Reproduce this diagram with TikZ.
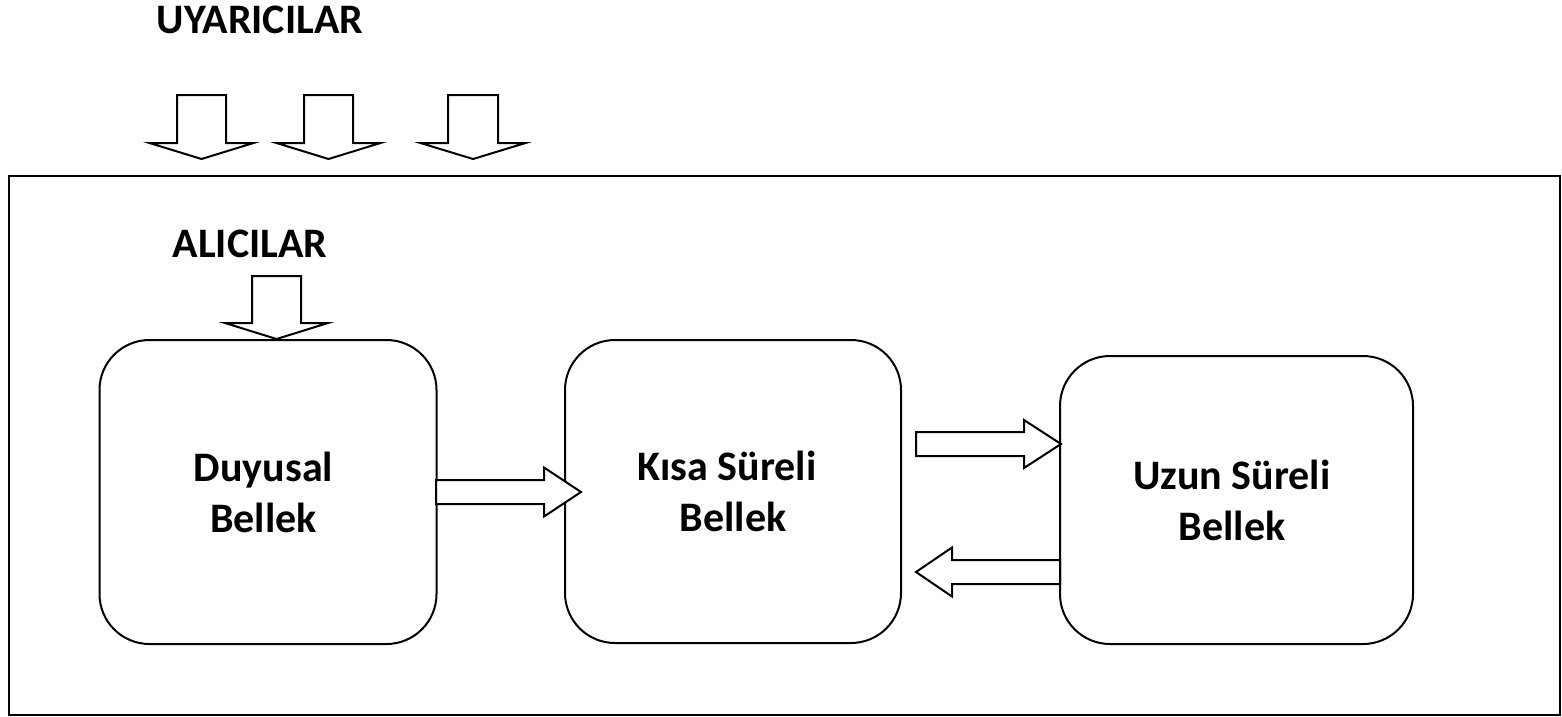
\documentclass[tikz,border=0pt]{standalone}
\usepackage{fontspec}
\setmainfont{Carlito}
\newcommand{\vdarrow}[6]{% x center, top y, head base y, tip y, shaft half, head half
  \draw[blk] ({#1-#5},#2) -- ({#1+#5},#2) -- ({#1+#5},#3) -- ({#1+#6},#3) -- (#1,#4) -- ({#1-#6},#3) -- ({#1-#5},#3) -- cycle;}
\newcommand{\hdarrow}[6]{% y center, tail x, head base x, tip x, shaft half, head half
  \draw[blk] (#2,{#1-#5}) -- (#3,{#1-#5}) -- (#3,{#1-#6}) -- (#4,#1) -- (#3,{#1+#6}) -- (#3,{#1+#5}) -- (#2,{#1+#5}) -- cycle;}
\begin{document}
\begin{tikzpicture}[x=1pt,y=-1pt,
  blk/.style={draw=black,line width=2pt,fill=white,line join=miter},
  membox/.style={draw=black,line width=2pt,rounded corners=50pt,inner sep=0pt,align=center,font=\bfseries\fontsize{42}{51}\selectfont},
  lbl/.style={inner sep=0pt,font=\bfseries\fontsize{42}{51}\selectfont}]
\useasboundingbox (0,0) rectangle (1562,716);
\fill[white] (0,0) rectangle (1562,716);
\node[draw=black,line width=2pt,minimum width=1551pt,minimum height=539pt,inner sep=0pt] (frame) at (784.5,445) {};
\node[lbl] (uyar) at (260,20) {UYARICILAR};
\node[lbl] (alic) at (250,244) {ALICILAR};
\node[membox,minimum width=337pt,minimum height=304pt] (duy) at (268,492) {Duyusal\hspace*{9pt}\\Bellek\hspace*{9pt}};
\node[membox,minimum width=336pt,minimum height=303pt] (kisa) at (733,491.5) {Kısa Süreli\hspace*{12pt}\\Bellek};
\node[membox,minimum width=353pt,minimum height=288pt] (uzun) at (1236.5,500) {Uzun Süreli\hspace*{9pt}\\Bellek\hspace*{9pt}};
% stimulus arrows
\vdarrow{201.5}{95}{143}{159}{24.5}{52}
\vdarrow{328.5}{95}{143}{159}{24.5}{52}
\vdarrow{473}{95}{143}{159}{25}{52.5}
% receptor arrow
\vdarrow{276.5}{276}{323}{339}{24.5}{51.5}
% horizontal arrows
\hdarrow{492}{436}{544}{581}{12}{24.5}
\hdarrow{444}{916}{1024}{1061}{12}{24}
\hdarrow{572}{1060}{952}{916}{12}{24.5}
\end{tikzpicture}
\end{document}
